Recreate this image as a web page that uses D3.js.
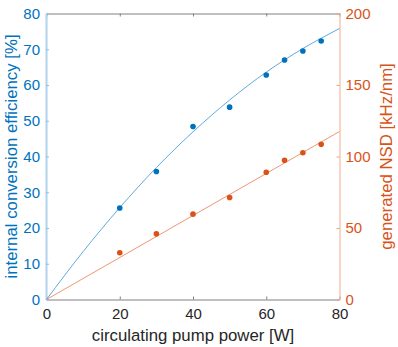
<!DOCTYPE html>
<html>
    <head>
        <title>Conversion efficiency and NSD</title>
        <style>
            body { margin: 0; background: #fff; }
            text { font-family: "Liberation Sans", Arial, sans-serif; }
        </style>
    </head>
    <body>
        <svg></svg>

        <script src="https://d3js.org/d3.v7.min.js"></script>
        <script>
            // measured points (x = circulating pump power in W)
            var power = [20, 30, 40, 50, 60, 65, 70, 75];
            var efficiency = [25.6, 35.8, 48.4, 53.8, 62.8, 67.0, 69.5, 72.3];
            var nsd = [32.7, 45.9, 59.7, 71.3, 89.0, 97.4, 102.6, 108.6];

            // fitted curves
            var fitPower = [0, 10, 20, 30, 40, 50, 60, 70, 80];
            var fitEfficiency = [0, 13.4, 25.7, 36.9, 46.9, 55.8, 63.6, 70.2, 75.8];
            var nsdFitPower = [0, 80];
            var nsdFit = [0, 117.5];

            var xTicks = [0, 20, 40, 60, 80];
            var leftTicks = [0, 10, 20, 30, 40, 50, 60, 70, 80];
            var rightTicks = [0, 50, 100, 150, 200];

            var blue = "#0072BD", orange = "#D95319";

            var svg = d3.select("svg")
                .attr("width", 398)
                .attr("height", 347);

            // plot box edges (note: "top" is a reserved window global)
            var plotL = 46.5, plotR = 339.5, plotT = 13.5, plotB = 299.5;

            var x = d3.scaleLinear().domain([0, 80]).range([plotL, plotR]);
            var yL = d3.scaleLinear().domain([0, 80]).range([plotB, plotT]);
            var yR = d3.scaleLinear().domain([0, 200]).range([plotB, plotT]);

            // top and bottom axes (gray)
            var xAxisBottom = svg.append("g")
                .attr("transform", "translate(0," + plotB + ")")
                .call(d3.axisBottom(x).tickValues(xTicks).tickSizeInner(-3).tickSizeOuter(0).tickPadding(9));
            xAxisBottom.select(".domain").attr("stroke", "#808080");
            xAxisBottom.selectAll(".tick line").attr("stroke", "#808080");
            xAxisBottom.selectAll("text")
                .attr("fill", "#262626")
                .style("font-size", "15px");

            var xAxisTop = svg.append("g")
                .attr("transform", "translate(0," + plotT + ")")
                .call(d3.axisTop(x).tickValues(xTicks).tickSizeInner(-3).tickSizeOuter(0).tickFormat(""));
            xAxisTop.select(".domain").attr("stroke", "#808080");
            xAxisTop.selectAll(".tick line").attr("stroke", "#808080");

            // left axis (blue)
            var yAxisL = svg.append("g")
                .attr("transform", "translate(" + (plotL - 0.5) + ",0)")
                .call(d3.axisLeft(yL).tickValues(leftTicks).tickSizeInner(-3).tickSizeOuter(0).tickPadding(6));
            yAxisL.select(".domain").attr("stroke", "#b6d6ee").attr("stroke-width", 2.2);
            yAxisL.selectAll(".tick line").attr("stroke", "#8fc0e6");
            yAxisL.selectAll("text")
                .attr("fill", blue)
                .style("font-size", "15px");

            // right axis (orange)
            var yAxisR = svg.append("g")
                .attr("transform", "translate(" + plotR + ",0)")
                .call(d3.axisRight(yR).tickValues(rightTicks).tickSizeInner(-3).tickSizeOuter(0).tickPadding(6));
            yAxisR.select(".domain").attr("stroke", "#f3b9a0").attr("stroke-width", 1.2);
            yAxisR.selectAll(".tick line").attr("stroke", "#eea283");
            yAxisR.selectAll("text")
                .attr("fill", orange)
                .style("font-size", "15px");

            // fit lines
            var effFit = fitPower.map(function(p, i) { return [p, fitEfficiency[i]]; });
            svg.append("path")
                .datum(effFit)
                .attr("fill", "none")
                .attr("stroke", "#4d9fda")
                .attr("stroke-width", 0.9)
                .attr("d", d3.line()
                    .curve(d3.curveMonotoneX)
                    .x(function(d) { return x(d[0]); })
                    .y(function(d) { return yL(d[1]); }));

            var nsdLine = nsdFitPower.map(function(p, i) { return [p, nsdFit[i]]; });
            svg.append("path")
                .datum(nsdLine)
                .attr("fill", "none")
                .attr("stroke", "#ec8a63")
                .attr("stroke-width", 0.9)
                .attr("d", d3.line()
                    .x(function(d) { return x(d[0]); })
                    .y(function(d) { return yR(d[1]); }));

            // measured points
            svg.selectAll("circle.eff")
                .data(power).enter().append("circle")
                .attr("class", "eff")
                .attr("cx", function(p) { return x(p); })
                .attr("cy", function(p, i) { return yL(efficiency[i]); })
                .attr("r", 2.8)
                .attr("fill", blue);

            svg.selectAll("circle.nsd")
                .data(power).enter().append("circle")
                .attr("class", "nsd")
                .attr("cx", function(p) { return x(p); })
                .attr("cy", function(p, i) { return yR(nsd[i]); })
                .attr("r", 2.8)
                .attr("fill", orange);

            // axis labels
            svg.append("text")
                .attr("x", (plotL + plotR) / 2)
                .attr("y", 341)
                .attr("text-anchor", "middle")
                .attr("fill", "#262626")
                .style("font-size", "16.8px")
                .text("circulating pump power [W]");

            svg.append("text")
                .attr("transform", "translate(16.5," + ((plotT + plotB) / 2) + ") rotate(-90)")
                .attr("text-anchor", "middle")
                .attr("fill", blue)
                .style("font-size", "16.8px")
                .text("internal conversion efficiency [%]");

            svg.append("text")
                .attr("transform", "translate(392," + ((plotT + plotB) / 2) + ") rotate(-90)")
                .attr("text-anchor", "middle")
                .attr("fill", orange)
                .style("font-size", "16.8px")
                .text("generated NSD [kHz/nm]");
        </script>
    </body>
</html>
